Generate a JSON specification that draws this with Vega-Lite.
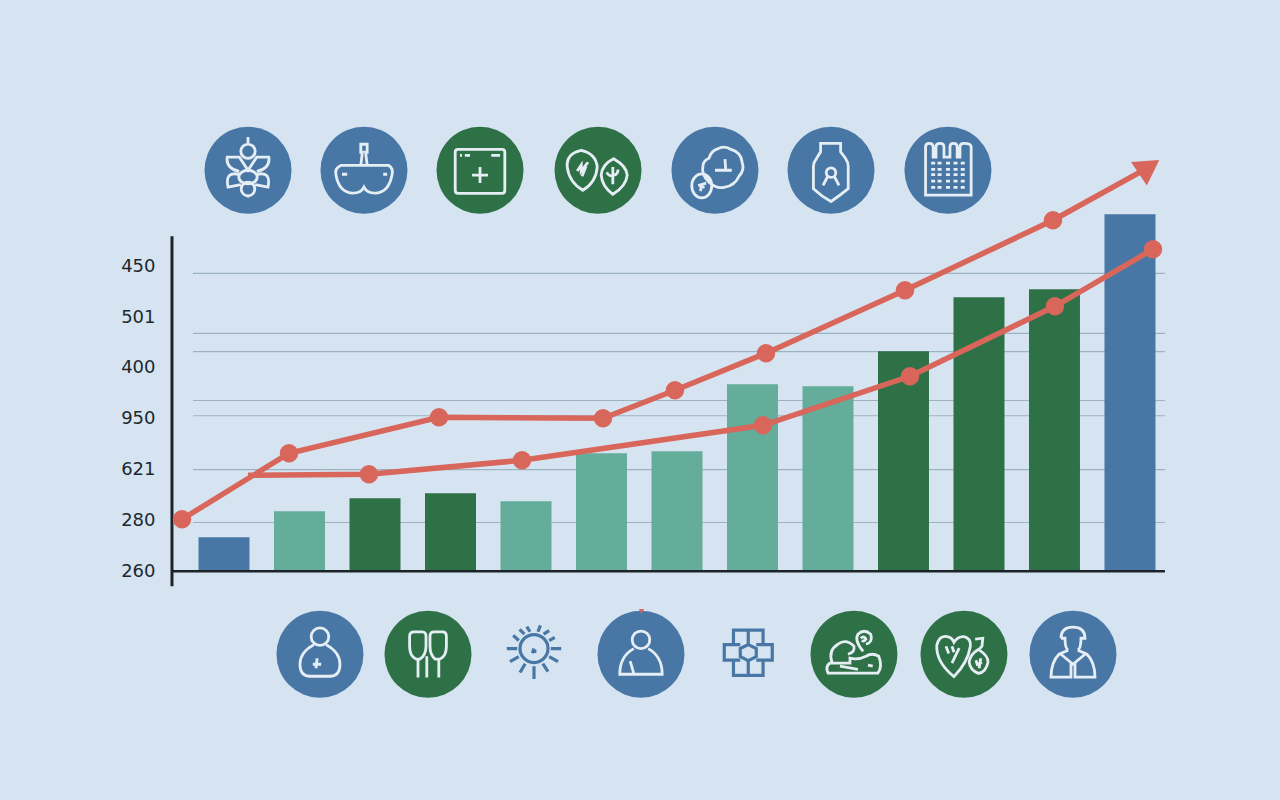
{
  "$schema": "https://vega.github.io/schema/vega-lite/v6.json",
  "width": 1280,
  "height": 800,
  "autosize": {"type": "fit", "contains": "padding"},
  "padding": 0,
  "background": "#d6e4f2",
  "config": {"view": {"stroke": null}},
  "datasets": {
    "bars": [
      {"pos": 1, "value": 293.4, "tone": "blue"},
      {"pos": 2, "value": 319, "tone": "teal"},
      {"pos": 3, "value": 331.8, "tone": "green"},
      {"pos": 4, "value": 336.7, "tone": "green"},
      {"pos": 5, "value": 328.9, "tone": "teal"},
      {"pos": 6, "value": 376.1, "tone": "teal"},
      {"pos": 7, "value": 378, "tone": "teal"},
      {"pos": 8, "value": 444, "tone": "teal"},
      {"pos": 9, "value": 442, "tone": "teal"},
      {"pos": 10, "value": 476.4, "tone": "green"},
      {"pos": 11, "value": 529.5, "tone": "green"},
      {"pos": 12, "value": 537.4, "tone": "green"},
      {"pos": 13, "value": 611.2, "tone": "blue"}
    ],
    "grid": [
      {"pos": 0.589, "to": 13.463, "value": 553},
      {"pos": 0.589, "to": 13.463, "value": 494},
      {"pos": 0.589, "to": 13.463, "value": 476},
      {"pos": 0.589, "to": 13.463, "value": 428},
      {"pos": 0.589, "to": 13.463, "value": 413},
      {"pos": 0.589, "to": 13.463, "value": 360},
      {"pos": 0.589, "to": 13.463, "value": 308}
    ],
    "lines": [
      {"series": "upper", "pos": 0.444, "value": 311.2, "dot": true},
      {"series": "upper", "pos": 1.861, "value": 376.1, "dot": true},
      {"series": "upper", "pos": 3.848, "value": 411.5, "dot": true},
      {"series": "upper", "pos": 6.02, "value": 410.5, "dot": true},
      {"series": "upper", "pos": 6.973, "value": 438.1, "dot": true},
      {"series": "upper", "pos": 8.179, "value": 474.5, "dot": true},
      {"series": "upper", "pos": 10.02, "value": 536.4, "dot": true},
      {"series": "upper", "pos": 11.98, "value": 605.3, "dot": true},
      {"series": "upper", "pos": 13.247, "value": 657.4, "dot": false},
      {"series": "lower", "pos": 1.318, "value": 354.4, "dot": false},
      {"series": "lower", "pos": 2.92, "value": 355.4, "dot": true},
      {"series": "lower", "pos": 4.947, "value": 369.2, "dot": true},
      {"series": "lower", "pos": 8.139, "value": 403.6, "dot": true},
      {"series": "lower", "pos": 10.086, "value": 451.8, "dot": true},
      {"series": "lower", "pos": 12.006, "value": 520.7, "dot": true},
      {"series": "lower", "pos": 13.305, "value": 576.8, "dot": true}
    ],
    "icons": [
      {"icon": "flower", "pos": 1.318, "value": 654.5, "tone": "blue", "badge": true},
      {"icon": "goggles", "pos": 2.854, "value": 654.5, "tone": "blue", "badge": true},
      {"icon": "window", "pos": 4.391, "value": 654.5, "tone": "green", "badge": true},
      {"icon": "leaves", "pos": 5.954, "value": 654.5, "tone": "green", "badge": true},
      {"icon": "blob", "pos": 7.503, "value": 654.5, "tone": "blue", "badge": true},
      {"icon": "bottle", "pos": 9.04, "value": 654.5, "tone": "blue", "badge": true},
      {"icon": "calendar", "pos": 10.589, "value": 654.5, "tone": "blue", "badge": true},
      {"icon": "bag", "pos": 2.271, "value": 178.4, "tone": "blue", "badge": true},
      {"icon": "glasses", "pos": 3.702, "value": 178.4, "tone": "green", "badge": true},
      {"icon": "sun", "pos": 5.106, "value": 184, "tone": "blue", "badge": false},
      {"icon": "person", "pos": 6.523, "value": 178.4, "tone": "blue", "badge": true},
      {"icon": "cells", "pos": 7.944, "value": 180, "tone": "blue", "badge": false},
      {"icon": "rest", "pos": 9.344, "value": 178.4, "tone": "green", "badge": true},
      {"icon": "heart", "pos": 10.801, "value": 178.4, "tone": "green", "badge": true},
      {"icon": "doctor", "pos": 12.245, "value": 178.4, "tone": "blue", "badge": true}
    ]
  },
  "encoding": {
    "x": {"field": "pos", "type": "quantitative", "axis": null, "scale": {"domain": [-1.967, 14.987], "nice": false, "zero": false, "padding": 0}},
    "y": {
      "field": "value",
      "type": "quantitative",
      "scale": {"domain": [35, 822], "nice": false, "zero": false},
      "axis": {
        "title": null,
        "orient": "left",
        "offset": -155,
        "domain": false,
        "ticks": false,
        "grid": false,
        "labelPadding": 0,
        "labelFont": "DejaVu Sans",
        "labelFontSize": 18,
        "labelColor": "#20282d",
        "values": [260, 310, 360, 410, 460, 510, 560],
        "labelExpr": "{'260':'260','310':'280','360':'621','410':'950','460':'400','510':'501','560':'450'}[datum.value]"
      }
    },
    "color": {
      "field": "tone",
      "type": "nominal",
      "legend": null,
      "scale": {"domain": ["blue", "teal", "green"], "range": ["#4877a6", "#63ad9a", "#2f7147"]}
    }
  },
  "layer": [
    {
      "data": {"name": "grid"},
      "mark": {"type": "rule", "strokeWidth": 1.2},
      "encoding": {"x2": {"field": "to"}, "color": {"value": "#9db2c1"}}
    },
    {
      "data": {"name": "bars"},
      "mark": {"type": "bar", "size": 51},
      "encoding": {"y2": {"datum": 260}}
    },
    {
      "data": {"values": [{"pos": 0.311, "to": 13.463, "value": 260}]},
      "mark": {"type": "rule", "strokeWidth": 2.5},
      "encoding": {"x2": {"field": "to"}, "color": {"value": "#1c2429"}}
    },
    {
      "data": {"values": [{"pos": 0.311, "value": 245.2, "to": 589.5}]},
      "mark": {"type": "rule", "strokeWidth": 3},
      "encoding": {"y2": {"field": "to"}, "color": {"value": "#1c2429"}}
    },
    {
      "data": {"name": "lines"},
      "mark": {"type": "line", "strokeWidth": 5.5},
      "encoding": {"detail": {"field": "series"}, "order": {"field": "pos"}, "color": {"value": "#d9665a"}}
    },
    {
      "data": {"name": "lines"},
      "transform": [{"filter": "datum.dot"}],
      "mark": {"type": "point", "filled": true, "opacity": 1, "size": 340},
      "encoding": {"color": {"value": "#d9665a"}}
    },
    {
      "data": {"values": [{"pos": 13.253, "value": 657.8}]},
      "mark": {"type": "point", "filled": true, "opacity": 1, "shape": "triangle-up", "angle": 56, "size": 800},
      "encoding": {"color": {"value": "#d9665a"}}
    },
    {
      "data": {"name": "icons"},
      "transform": [{"filter": "datum.badge"}],
      "mark": {"type": "point", "filled": true, "opacity": 1, "size": 7569, "shape": "circle"}
    },
    {
      "data": {"values": [{"pos": 6.53, "value": 220.5}]},
      "mark": {"type": "point", "filled": true, "opacity": 1, "shape": "triangle-down", "size": 30},
      "encoding": {"color": {"value": "#d9665a"}}
    },
    {
      "data": {"name": "icons"},
      "encoding": {
        "shape": {
          "field": "icon",
          "type": "nominal",
          "legend": null,
          "scale": {
            "domain": ["flower", "goggles", "window", "leaves", "blob", "bottle", "calendar", "bag", "glasses", "sun", "person", "cells", "rest", "heart", "doctor"],
            "range": [
              "M0 -.83L0 -.65M-.18 -.475A.18 .18 0 1 1 .18 -.475A.18 .18 0 1 1 -.18 -.475ZM-.2 -.33L-.52 -.33Q-.56 -.05 -.22 .03M.2 -.33L.52 -.33Q.56 -.05 .22 .03M-.22 -.33L0 0L.22 -.33M-.23 .17A.23 .17 0 1 1 .23 .17A.23 .17 0 1 1 -.23 .17ZM-.24 .1Q-.58 .02 -.5 .42L-.18 .36M.24 .1Q.58 .02 .5 .42L.18 .36M-.17 .47A.17 .17 0 1 1 .17 .47A.17 .17 0 1 1 -.17 .47ZM0 .63L0 .68",
              "M-.58 -.12L.62 -.12Q.74 -.05 .7 .12Q.62 .55 .3 .57Q.08 .58 0 .42Q-.08 .58 -.3 .57Q-.62 .55 -.7 .12Q-.74 -.05 -.58 -.12ZM-.08 -.12L-.04 -.45L-.08 -.45L-.08 -.65L.08 -.65L.08 -.45L.04 -.45L.08 -.12M-.55 .1L-.42 .1M.48 .1L.58 .1",
              "M-.55 -.52L.55 -.52Q.62 -.52 .62 -.45L.62 .5Q.62 .58 .55 .58L-.55 .58Q-.62 .58 -.62 .5L-.62 -.45Q-.62 -.52 -.55 -.52ZM-.5 -.37L-.45 -.37M-.38 -.37L-.25 -.37M.28 -.37L.5 -.37M-.2 .12L.2 .12M0 -.08L0 .32",
              "M-.42 -.5Q-.05 -.42 -.02 -.08Q-.05 .3 -.38 .5Q-.72 .3 -.77 -.08Q-.8 -.42 -.42 -.5ZM-.52 .02L-.42 -.13L-.42 .02L-.25 -.2M-.4 .15L-.3 -.1M.39 -.29Q.72 -.1 .73 .12Q.7 .4 .37 .6Q.1 .4 .08 .12Q.1 -.15 .39 -.29ZM.37 .35L.37 -.08M.22 .05Q.27 .18 .4 .12Q.5 .1 .5 -.02",
              "M-.15 -.3Q-.1 -.5 .1 -.55Q.25 -.62 .4 -.52Q.65 -.45 .68 -.2Q.75 0 .6 .15Q.5 .38 .25 .42Q.05 .48 -.15 .3Q-.35 .1 -.3 -.12Q-.28 -.25 -.15 -.3ZM.25 -.28L.27 0M0 0L.42 0M-.58 .39A.25 .3 0 1 1 -.08 .39A.25 .3 0 1 1 -.58 .39ZM-.42 .38L-.22 .32M-.38 .42L-.26 .42M-.34 .35L-.36 .52",
              "M-.26 -.67L.24 -.67L.24 -.46L.36 -.3Q.43 -.2 .43 -.1L.43 .46Q.2 .65 0 .78Q-.24 .65 -.44 .46L-.44 -.1Q-.44 -.2 -.36 -.3L-.26 -.46ZM-.12 .06A.12 .12 0 1 1 .12 .06A.12 .12 0 1 1 -.12 .06ZM-.08 .15L-.2 .38M.08 .15L.2 .38",
              "M-.56 .62L-.56 -.58Q-.56 -.67 -.47 -.67Q-.37 -.67 -.37 -.58L-.37 -.33L-.3 -.33L-.3 -.58Q-.3 -.67 -.2 -.67Q-.1 -.67 -.1 -.58L-.1 -.33L.05 -.33L.05 -.58Q.05 -.67 .14 -.67Q.23 -.67 .23 -.58L.23 -.33L.3 -.33L.3 -.58Q.3 -.67 .4 -.67Q.58 -.67 .58 -.58L.58 .62ZM-.42 -.18h.1M-.26 -.18h.1M-.05 -.18h.1M.14 -.18h.1M.32 -.18h.1M-.42 -.02h.1M-.26 -.02h.1M-.05 -.02h.1M.14 -.02h.1M.32 -.02h.1M-.42 .11h.1M-.26 .11h.1M-.05 .11h.1M.14 .11h.1M.32 .11h.1M-.42 .27h.1M-.26 .27h.1M-.05 .27h.1M.14 .27h.1M.32 .27h.1M-.42 .43h.1M-.26 .43h.1M-.05 .43h.1M.14 .43h.1M.32 .43h.1",
              "M-.22 -.44A.22 .22 0 1 1 .22 -.44A.22 .22 0 1 1 -.22 -.44ZM-.15 -.24Q-.5 -.05 -.5 .25Q-.5 .55 -.25 .55L.25 .55Q.5 .55 .5 .25Q.5 -.05 .15 -.24M-.18 .25L.03 .25M-.07 .1L-.1 .35",
              "M-.3 .12Q-.46 .05 -.46 -.2L-.46 -.45Q-.46 -.56 -.35 -.56L-.15 -.56Q-.05 -.56 -.05 -.45L-.05 -.2Q-.05 .02 -.2 .12L-.3 .12ZM.18 .12Q.05 .02 .05 -.2L.05 -.45Q.05 -.56 .15 -.56L.36 -.56Q.46 -.56 .46 -.45L.46 -.2Q.46 .05 .3 .12L.18 .12ZM-.25 .12L-.25 .58M-.03 .05L-.03 .58M.27 .12L.27 .58",
              "M-.35 0A.35 .35 0 1 1 .35 0A.35 .35 0 1 1 -.35 0ZM.42 0L.68 0M.38 .2L.6 .33M.22 .38L.35 .58M0 .44L0 .76M-.22 .38L-.35 .6M-.38 .2L-.6 .33M-.42 0L-.68 0M-.38 -.2L-.52 -.33M-.24 -.36L-.36 -.48M-.1 -.42L-.18 -.55M.1 -.42L.16 -.58M.24 -.36L.38 -.45M.38 -.2L.52 -.28M-.06 .07L.06 .07M0 0L-.04 .12",
              "M-.22 -.36A.22 .22 0 1 1 .22 -.36A.22 .22 0 1 1 -.22 -.36ZM-.18 -.14Q-.53 .05 -.53 .5L.53 .5Q.53 .05 .18 -.14M-.27 .17L-.18 .48",
              "M-.37 -.2L-.37 -.56L.37 -.56L.37 -.2M0 -.56L0 -.2M-.2 -.2L-.6 -.2L-.6 .19L-.2 .19M.2 -.2L.6 -.2L.6 .19L.2 .19M0 -.2L.2 -.1L.2 .1L0 .2L-.2 .1L-.2 -.1ZM-.37 .19L-.37 .57L.37 .57L.37 .19M0 .2L0 .57",
              "M-.65 .47L.6 .47Q.72 .3 .62 .05Q.45 -.05 .3 .05Q.1 .15 -.1 .1L-.1 .22L-.6 .22Q-.72 .3 -.65 .47ZM-.55 .2Q-.65 -.1 -.4 -.25Q-.2 -.4 0 -.2Q.03 -.05 -.15 0M.23 -.07Q0 -.35 .1 -.5Q.25 -.65 .42 -.5Q.48 -.3 .3 -.25M.17 -.4Q.25 -.48 .3 -.38Q.25 -.3 .2 -.35M-.35 .3L.1 .38M.35 .27L.47 .3",
              "M-.25 .56Q-.7 .2 -.68 -.22Q-.62 -.48 -.42 -.44Q-.3 -.42 -.25 -.3Q-.15 -.45 0 -.44Q.18 -.4 .16 -.2Q.1 .2 -.25 .56ZM-.45 -.2L-.38 -.02M-.3 -.2L-.25 -.05M-.12 -.15L-.3 .22M.36 -.12Q.62 .05 .6 .2Q.55 .45 .36 .48Q.15 .4 .13 .2Q.15 0 .36 -.12ZM.28 -.38L.47 -.4L.45 -.2L.38 -.12M.3 .15L.33 .25L.45 .2M.42 .1L.38 .35",
              "M-.3 -.4Q-.3 -.68 0 -.68Q.3 -.68 .3 -.4L.2 -.4Q.2 -.15 .12 -.1M-.3 -.4L-.2 -.4Q-.2 -.15 -.12 -.1M-.12 -.1L-.35 0Q-.55 .2 -.55 .57L-.05 .57L-.05 .25L.05 .25L.05 .57L.55 .57Q.55 .2 .35 0L.12 -.1M-.3 0L0 .25L.3 0"
            ]
          }
        }
      },
      "layer": [
        {
          "transform": [{"filter": "datum.badge"}],
          "mark": {"type": "point", "filled": false, "opacity": 1, "size": 6400, "strokeWidth": 2.8},
          "encoding": {"color": {"value": "#e6eef5"}}
        },
        {
          "transform": [{"filter": "!datum.badge"}],
          "mark": {"type": "point", "filled": false, "opacity": 1, "size": 6400, "strokeWidth": 3.2}
        }
      ]
    }
  ]
}
